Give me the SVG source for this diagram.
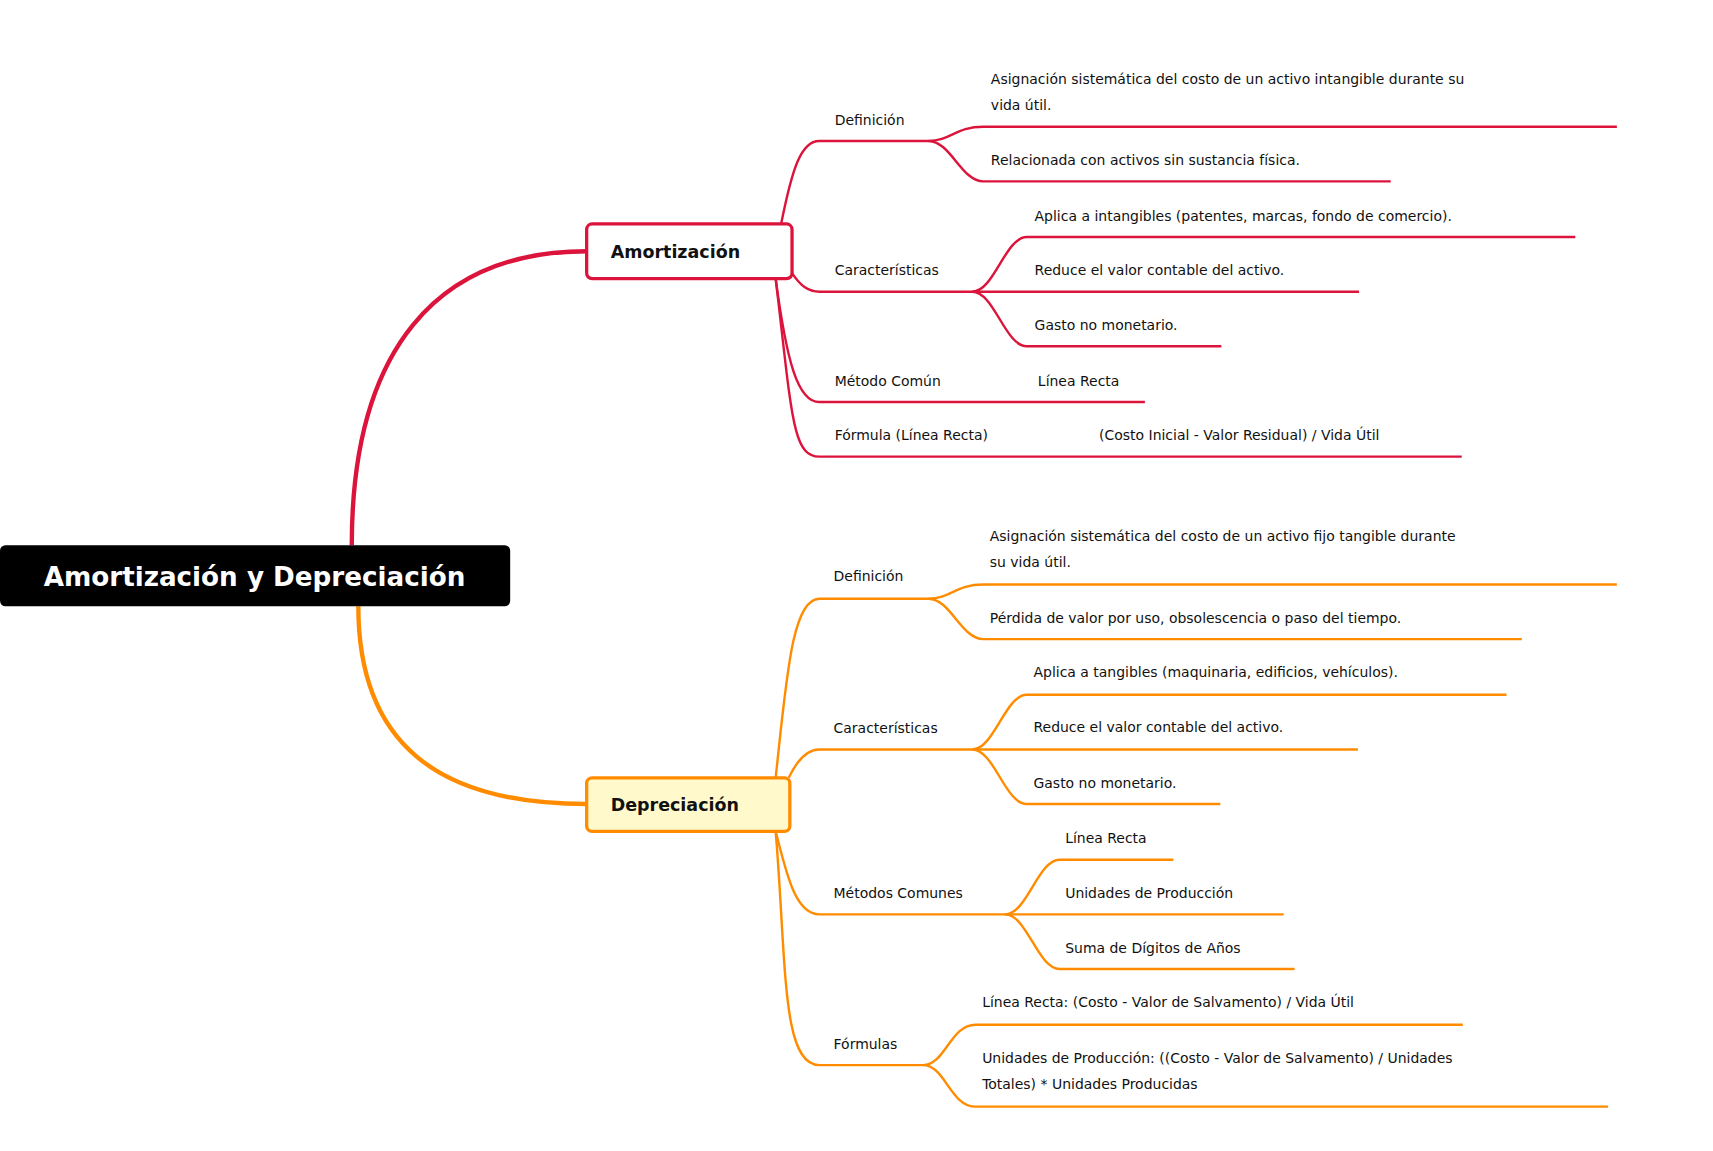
<svg xmlns="http://www.w3.org/2000/svg" width="1713" height="1151" viewBox="0 0 1713 1151">
<style>
text{font-family:"DejaVu Sans",sans-serif;font-size:12.8px;fill:#111}
.r{fill:none;stroke:#dc143c;stroke-width:2.2}
.o{fill:none;stroke:#ff8c00;stroke-width:2.2}
.b{font-weight:bold;font-size:16px}
</style>
<rect width="1713" height="1151" fill="#fff"/>
<g transform="scale(1.09247)">
<g id="connectors">
<path d="M322,499 C322,320 400,230 537,230" fill="none" stroke="#dc143c" stroke-width="4"/>
<path d="M328,555 C328,680 400,736 537,736" fill="none" stroke="#ff8c00" stroke-width="4"/>
<path class="r" d="M715,205 C725,155 733,129 750,129 H850 C870,129 875,116 900,116 H1480"/>
<path class="r" d="M850,129 C870,129 880,166 900,166 H1273"/>
<path class="r" d="M725,250 C733,262 740,267 750,267 H890 C910,267 920,217 940,217 H1442"/>
<path class="r" d="M890,267 H1244"/>
<path class="r" d="M890,267 C910,267 920,317 940,317 H1118"/>
<path class="r" d="M710,255 C720,330 730,368 750,368 H1048"/>
<path class="r" d="M710,255 C725,380 725,418 750,418 H1338"/>
<path class="o" d="M710,712 C720,620 725,548 750,548 H850 C870,548 875,535 900,535 H1480"/>
<path class="o" d="M850,548 C870,548 880,585 900,585 H1393"/>
<path class="o" d="M722,712 C730,695 740,686 750,686 H890 C910,686 920,636 940,636 H1379"/>
<path class="o" d="M890,686 H1243"/>
<path class="o" d="M890,686 C910,686 920,736 940,736 H1117"/>
<path class="o" d="M710,761 C720,800 728,837 750,837 H920 C940,837 950,787 970,787 H1074"/>
<path class="o" d="M920,837 H1175"/>
<path class="o" d="M920,837 C940,837 950,887 970,887 H1185"/>
<path class="o" d="M710,761 C720,880 715,975 750,975 H845 C865,975 870,938 893,938 H1339"/>
<path class="o" d="M845,975 C865,975 870,1013 893,1013 H1472"/>
</g>
<g id="root"><rect x="0" y="499" width="467" height="56" rx="5" fill="#000"/><text x="233" y="536" text-anchor="middle" style="font-weight:bold;font-size:24px;fill:#fff">Amortización y Depreciación</text></g>
<g id="amort"><rect x="537" y="205" width="188" height="50" rx="5" fill="#fff" stroke="#dc143c" stroke-width="3"/><text class="b" x="559" y="236">Amortización</text></g>
<g id="depre"><rect x="537" y="712" width="186" height="49" rx="5" fill="#fff9cc" stroke="#ff8c00" stroke-width="3"/><text class="b" x="559" y="742">Depreciación</text></g>
<g id="a-def"><text x="764" y="114">Definición</text></g>
<g id="a-def1"><text x="907" y="77">Asignación sistemática del costo de un activo intangible durante su</text><text x="907" y="101">vida útil.</text></g>
<g id="a-def2"><text x="907" y="151">Relacionada con activos sin sustancia física.</text></g>
<g id="a-car"><text x="764" y="252">Características</text></g>
<g id="a-car1"><text x="947" y="202">Aplica a intangibles (patentes, marcas, fondo de comercio).</text></g>
<g id="a-car2"><text x="947" y="252">Reduce el valor contable del activo.</text></g>
<g id="a-car3"><text x="947" y="302">Gasto no monetario.</text></g>
<g id="a-met"><text x="764" y="353">Método Común</text></g>
<g id="a-met1"><text x="950" y="353">Línea Recta</text></g>
<g id="a-for"><text x="764" y="403">Fórmula (Línea Recta)</text></g>
<g id="a-for1"><text x="1006" y="403">(Costo Inicial - Valor Residual) / Vida Útil</text></g>
<g id="d-def"><text x="763" y="532">Definición</text></g>
<g id="d-def1"><text x="906" y="495">Asignación sistemática del costo de un activo fijo tangible durante</text><text x="906" y="519">su vida útil.</text></g>
<g id="d-def2"><text x="906" y="570">Pérdida de valor por uso, obsolescencia o paso del tiempo.</text></g>
<g id="d-car"><text x="763" y="671">Características</text></g>
<g id="d-car1"><text x="946" y="620">Aplica a tangibles (maquinaria, edificios, vehículos).</text></g>
<g id="d-car2"><text x="946" y="670">Reduce el valor contable del activo.</text></g>
<g id="d-car3"><text x="946" y="721">Gasto no monetario.</text></g>
<g id="d-met"><text x="763" y="822">Métodos Comunes</text></g>
<g id="d-met1"><text x="975" y="772">Línea Recta</text></g>
<g id="d-met2"><text x="975" y="822">Unidades de Producción</text></g>
<g id="d-met3"><text x="975" y="872">Suma de Dígitos de Años</text></g>
<g id="d-for"><text x="763" y="960">Fórmulas</text></g>
<g id="d-for1"><text x="899" y="922">Línea Recta: (Costo - Valor de Salvamento) / Vida Útil</text></g>
<g id="d-for2"><text x="899" y="973">Unidades de Producción: ((Costo - Valor de Salvamento) / Unidades</text><text x="899" y="997">Totales) * Unidades Producidas</text></g>
</g>
</svg>
